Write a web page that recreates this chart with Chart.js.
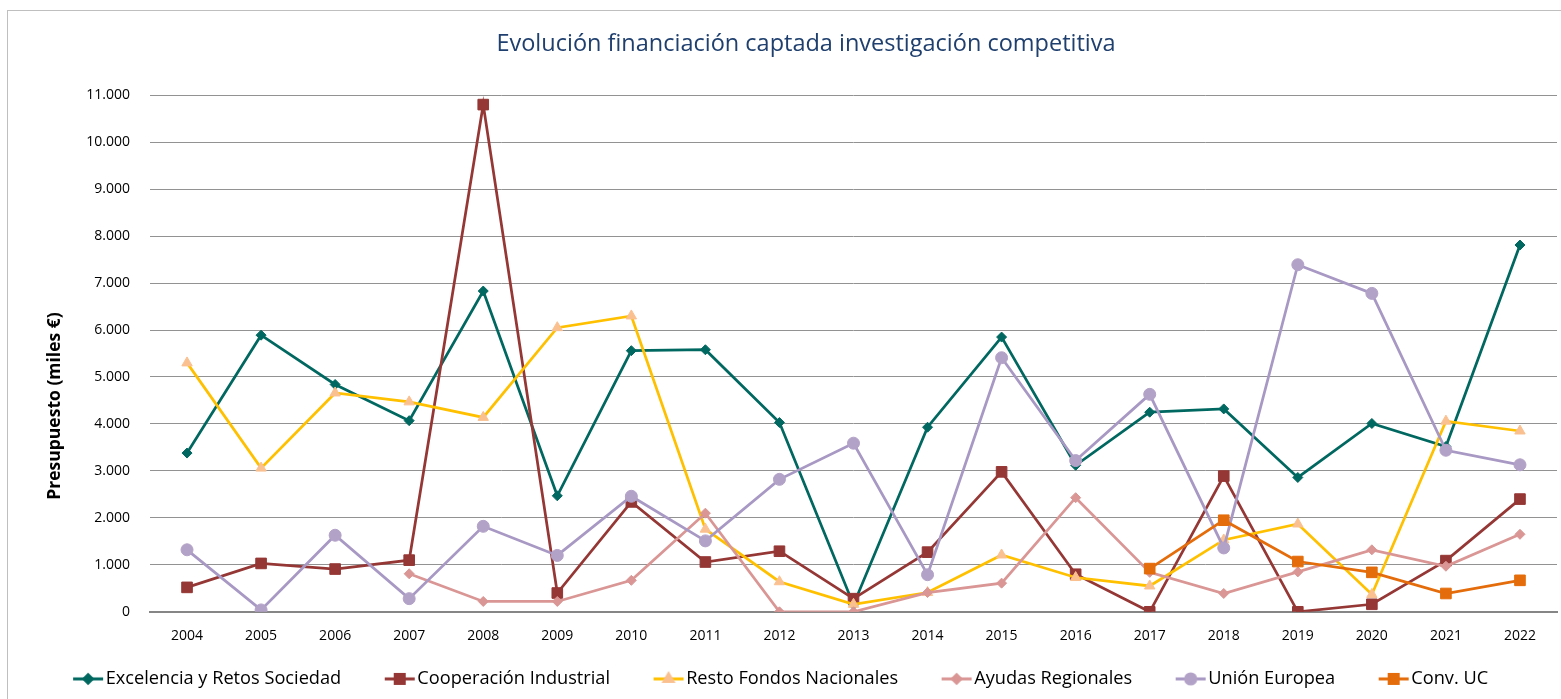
<!DOCTYPE html>
<html>
<head>
<meta charset="utf-8">
<script src="https://cdn.jsdelivr.net/npm/chart.js@4.4.1/dist/chart.umd.min.js"></script>
<style>
  body { margin: 0; background: #fff; }
  #box { position: absolute; left: 7px; top: 10px; width: 1560px; height: 700px; border: 1px solid #bfbfbf; }
</style>
</head>
<body>
<div id="box"><canvas id="myChart" width="1560" height="688"></canvas></div>
<script>
// datos en miles de euros
const years = ['2004', '2005', '2006', '2007', '2008', '2009', '2010', '2011', '2012', '2013',
    '2014', '2015', '2016', '2017', '2018', '2019', '2020', '2021', '2022'];

const excelencia = [3380, 5890, 4840, 4070, 6830, 2470, 5560, 5580, 4030, 150,
    3930, 5850, 3120, 4250, 4320, 2860, 4010, 3520, 7810];
const cooperacion = [520, 1030, 910, 1100, 10800, 400, 2340, 1060, 1290, 280,
    1270, 2980, 800, 0, 2890, 0, 160, 1090, 2400];
const restoFondos = [5300, 3060, 4660, 4470, 4140, 6050, 6300, 1760, 640, 160,
    410, 1210, 730, 550, 1530, 1870, 370, 4060, 3850];
const ayudasRegionales = [null, null, null, 810, 220, 220, 670, 2100, 0, 0,
    410, 610, 2430, 840, 390, 850, 1320, 970, 1650];
const unionEuropea = [1320, 40, 1630, 280, 1820, 1200, 2460, 1510, 2820, 3590,
    790, 5410, 3220, 4630, 1360, 7390, 6780, 3440, 3130];
const convUC = [null, null, null, null, null, null, null, null, null, null,
    null, null, null, 920, 1950, 1070, 840, 390, 670];

const yTicks = [0, 1000, 2000, 3000, 4000, 5000, 6000, 7000, 8000, 9000, 10000, 11000];

const FONT = "'Open Sans', 'DejaVu Sans', sans-serif";

const series = [
    { label: 'Excelencia y Retos Sociedad', data: excelencia, line: '#006860', point: '#006860', style: 'rectRot', r: 5 },
    { label: 'Cooperación Industrial', data: cooperacion, line: '#953735', point: '#953735', style: 'rect', r: 7.5 },
    { label: 'Resto Fondos Nacionales', data: restoFondos, line: '#FFC000', point: '#FAC090', style: 'triangle', r: 6 },
    { label: 'Ayudas Regionales', data: ayudasRegionales, line: '#D99694', point: '#D99694', style: 'rectRot', r: 5 },
    { label: 'Unión Europea', data: unionEuropea, line: '#A898C4', point: '#B3A2C7', style: 'circle', r: 6 },
    { label: 'Conv. UC', data: convUC, line: '#E46C0A', point: '#E46C0A', style: 'rect', r: 7.5 }
];

// icono de leyenda: linea con marcador (la parte izquierda queda vacia para separar items)
function legendIcon(s) {
    const c = document.createElement('canvas');
    c.width = 62; c.height = 18;
    const g = c.getContext('2d');
    g.strokeStyle = s.line;
    g.lineWidth = 3;
    g.beginPath(); g.moveTo(31, 9); g.lineTo(61, 9); g.stroke();
    g.fillStyle = s.point;
    g.strokeStyle = s.point;
    Chart.helpers.drawPoint(g, { pointStyle: s.style, radius: s.r * 0.85, borderWidth: 1 }, 46, 9);
    return c;
}

const ctx = document.getElementById('myChart').getContext('2d');

const myChart = new Chart(ctx, {
    type: 'line',
    data: {
        labels: years,
        datasets: series.map((s, i) => ({
            label: s.label,
            data: s.data,
            borderColor: s.line,
            backgroundColor: s.point,
            pointBackgroundColor: s.point,
            pointBorderColor: s.point,
            pointBorderWidth: 1,
            pointStyle: s.style,
            pointRadius: s.r,
            borderWidth: 2.75,
            tension: 0,
            fill: false,
            order: series.length - i
        }))
    },
    options: {
        responsive: false,
        animation: false,
        layout: { padding: { left: 0, right: 11, top: 0, bottom: 1 } },
        plugins: {
            title: {
                display: true,
                // dos espacios delante: en el original el titulo esta algo a la derecha
                text: '\u2003\u2003Evolución financiación captada investigación competitiva',
                color: '#1F3F6E',
                font: { family: FONT, size: 23.5, weight: 'normal' },
                padding: { top: 19, bottom: 37 }
            },
            legend: {
                position: 'bottom',
                labels: {
                    usePointStyle: true,
                    pointStyleWidth: 47,
                    padding: 20,
                    color: '#000',
                    font: { family: FONT, size: 18.2 },
                    generateLabels: () => series.map((s, i) => ({
                        // hueco al final del ultimo para centrar la leyenda visible
                        text: i === series.length - 1 ? s.label + '\u2003\u2002' : s.label,
                        pointStyle: legendIcon(s),
                        fillStyle: s.point,
                        strokeStyle: s.line,
                        lineWidth: 0,
                        hidden: false,
                        datasetIndex: i
                    }))
                }
            },
            tooltip: { enabled: false }
        },
        scales: {
            x: {
                offset: true,
                grid: { display: false, drawTicks: false },
                border: { display: true, color: '#868686', width: 2 },
                ticks: { color: '#000', padding: 16, font: { family: FONT, size: 14 }, maxRotation: 0 },
                afterFit: (scale) => { scale.height = 38; }
            },
            y: {
                min: 0,
                max: 11000,
                afterBuildTicks: (scale) => { scale.ticks = yTicks.map(v => ({ value: v })); },
                grid: { color: '#929292', lineWidth: 1, drawTicks: false },
                border: { display: false },
                ticks: {
                    color: '#000',
                    padding: 20,
                    font: { family: FONT, size: 14 },
                    callback: (v) => v.toLocaleString('de-DE')
                },
                title: {
                    display: true,
                    // espacios al final para bajar el titulo como en el original
                    text: 'Presupuesto (miles €)' + '\u2003'.repeat(6),
                    color: '#000',
                    font: { family: FONT, size: 17.5, weight: 'bold' },
                    padding: { top: 37, bottom: 0 }
                },
                afterFit: (scale) => { scale.width = 142; }
            }
        }
    }
});
</script>
</body>
</html>
